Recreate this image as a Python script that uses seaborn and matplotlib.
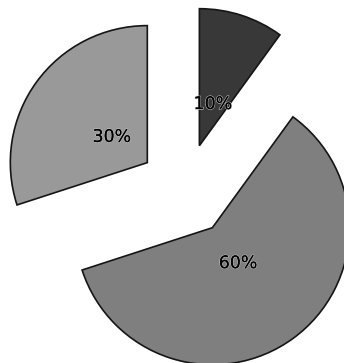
import matplotlib
matplotlib.use("Agg")
import matplotlib.pyplot as plt
import seaborn as sns
import matplotlib.patheffects as pe

sns.set_theme(style="white")
plt.rcParams['font.family'] = ['DejaVu Sans']

labels = ["A", "B", "C"]
values = [10, 60, 30]
colors = ["#383838", "#7f7f7f", "#999999"]
explode = [0.34, 0.34, 0.34]

fig = plt.figure(figsize=(3.44, 3.63), dpi=100)
ax = fig.add_axes([0, 0, 1, 1])
wedges, texts, autotexts = ax.pie(
    values, colors=colors, explode=explode, startangle=90, counterclock=False,
    autopct=lambda p: f"{p:.0f}%", pctdistance=0.32,
    wedgeprops=dict(edgecolor="#151515", linewidth=1.2),
    textprops=dict(fontsize=12.5, color="#000000"))
for t in autotexts:
    t.set_path_effects([pe.withStroke(linewidth=1.0, foreground="#bbbbbb"), pe.Normal()])
r = 137.0
cx, cy = 185.0, 190.0
ax.set_aspect('auto')
ax.set_xlim(-cx / r, (344 - cx) / r)
ax.set_ylim((cy - 363) / r, cy / r)
ax.axis('off')
fig.savefig("out.png", dpi=100)
